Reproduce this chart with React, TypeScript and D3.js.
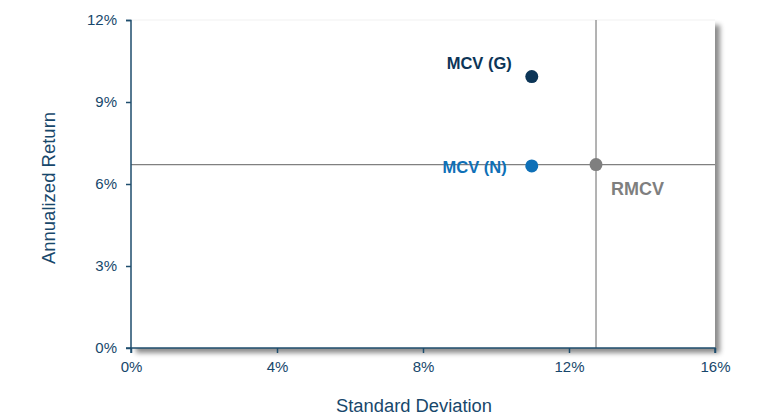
import React, { useRef, useEffect } from "react";
import * as d3 from "d3";

const names = ["MCV (G)", "MCV (N)", "RMCV"];
const stdDev = [10.98, 10.98, 12.74];
const annReturn = [9.93, 6.66, 6.71];
const colors = ["#0c3557", "#0f70b7", "#7f7f7f"];
const xTicks = [0, 4, 8, 12, 16];
const yTicks = [0, 3, 6, 9, 12];

const width = 761;
const height = 417;
const margin = { top: 20, right: 46, bottom: 69, left: 131 };
const boundedWidth = width - margin.left - margin.right;
const boundedHeight = height - margin.top - margin.bottom;

const xScale = d3.scaleLinear().domain([0, 16]).range([0, boundedWidth]);
const yScale = d3.scaleLinear().domain([0, 12]).range([boundedHeight, 0]);

const axisColor = "#1f4e6e";
const textColor = "#17476b";
const font = "'Liberation Sans', Arial, sans-serif";

export default function App() {
  const svgRef = useRef<SVGSVGElement>(null);

  useEffect(() => {
    if (!svgRef.current) return;
    const svg = d3.select(svgRef.current);
    svg.selectAll("*").remove();
    svg.style("font-family", font);

    const defs = svg.append("defs");
    const filter = defs.append("filter").attr("id", "shadow").attr("x", "-5%").attr("y", "-5%").attr("width", "115%").attr("height", "120%");
    filter.append("feDropShadow").attr("dx", 5).attr("dy", 5).attr("stdDeviation", 2.5).attr("flood-color", "#000").attr("flood-opacity", 0.45);

    const bounds = svg.append("g").attr("transform", `translate(${margin.left},${margin.top})`);

    bounds.append("rect").attr("x", 0).attr("y", 0).attr("width", boundedWidth).attr("height", boundedHeight)
      .attr("fill", "#fff").attr("filter", "url(#shadow)");
    bounds.append("line").attr("x1", 0).attr("x2", boundedWidth).attr("y1", 0).attr("y2", 0)
      .attr("stroke", "#f2f2f2").attr("stroke-width", 1);

    // benchmark crosshair
    const bx = xScale(stdDev[2]);
    const by = yScale(annReturn[2]);
    bounds.append("line").attr("x1", bx).attr("x2", bx).attr("y1", 0).attr("y2", boundedHeight)
      .attr("stroke", "#808080").attr("stroke-width", 1.2);
    bounds.append("line").attr("x1", 0).attr("x2", boundedWidth).attr("y1", by).attr("y2", by)
      .attr("stroke", "#808080").attr("stroke-width", 1.2);

    const yAxis = bounds.append("g").call(
      d3.axisLeft(yScale).tickValues(yTicks).tickSize(5).tickPadding(9).tickFormat((d) => `${d}%`)
    );
    const xAxis = bounds.append("g").attr("transform", `translate(0,${boundedHeight})`).call(
      d3.axisBottom(xScale).tickValues(xTicks).tickSize(5).tickPadding(8).tickFormat((d) => `${d}%`)
    );
    [xAxis, yAxis].forEach((ax) => {
      ax.select(".domain").attr("stroke", axisColor).attr("stroke-width", 1.5);
      ax.selectAll(".tick line").attr("stroke", axisColor).attr("stroke-width", 1.5);
      ax.selectAll(".tick text").attr("fill", textColor).style("font-size", "15px").style("font-family", font);
    });
    yAxis.select(".domain").attr("d", `M-5,0.5H0V${boundedHeight}H-5`);
    xAxis.select(".domain").attr("d", `M0,5V0H${boundedWidth}V5`);

    const points = names.map((n, i) => ({ name: n, x: stdDev[i], y: annReturn[i], color: colors[i] }));
    bounds.selectAll("circle").data(points).join("circle")
      .attr("cx", (d) => xScale(d.x)).attr("cy", (d) => yScale(d.y)).attr("r", 6.5)
      .attr("fill", (d) => d.color);

    const labelPos = [
      { dx: -20, dy: -13, anchor: "end", size: 16.5 },
      { dx: -25, dy: 1, anchor: "end", size: 16.5 },
      { dx: 15, dy: 24, anchor: "start", size: 18 },
    ];
    bounds.selectAll(".lbl").data(points).join("text").attr("class", "lbl")
      .attr("x", (d, i) => xScale(d.x) + labelPos[i].dx)
      .attr("y", (d, i) => yScale(d.y) + labelPos[i].dy)
      .attr("dy", "0.35em")
      .attr("text-anchor", (d, i) => labelPos[i].anchor)
      .attr("fill", (d) => d.color)
      .style("font-size", (d, i) => `${labelPos[i].size}px`)
      .style("font-weight", "bold")
      .text((d) => d.name);

    svg.append("text").attr("x", 414).attr("y", 412)
      .attr("text-anchor", "middle").attr("fill", textColor).style("font-size", "18px")
      .attr("textLength", 156).attr("lengthAdjust", "spacingAndGlyphs")
      .text("Standard Deviation");
    svg.append("text").attr("transform", `translate(55,188) rotate(-90)`)
      .attr("text-anchor", "middle").attr("fill", textColor).style("font-size", "18.5px")
      .text("Annualized Return");
  }, []);

  return <svg ref={svgRef} width={width} height={height} style={{ position: "absolute", left: 0, top: 0 }} />;
}
